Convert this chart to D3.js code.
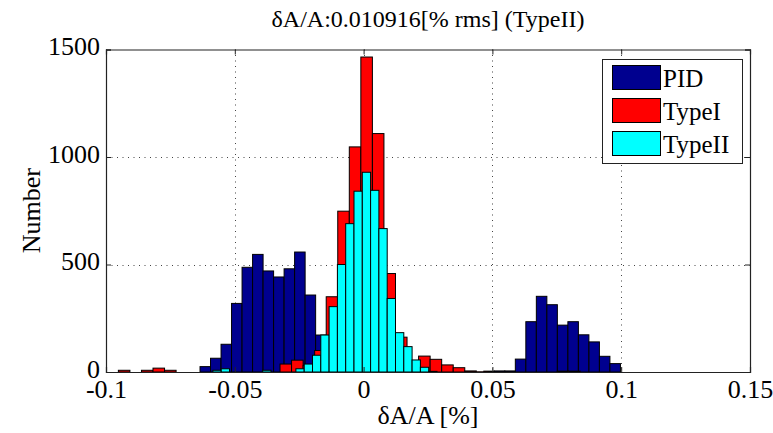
<!DOCTYPE html>
<html>
<head>
<meta charset="utf-8">
<script src="https://cdn.jsdelivr.net/npm/d3@7"></script>
<style>
  html, body { margin: 0; padding: 0; background: #fff; }
  svg { display: block; }
</style>
</head>
<body>
<svg id="chart" width="773" height="433"></svg>
<script>
// Histogram counts, 40 bins per series, each series over its own data range
const seriesNames = ["PID", "TypeI", "TypeII"];
const seriesColors = ["#00008f", "#ff0000", "#00ffff"];

const pidRange = [-0.0635, 0.0997];
const pidCounts = [25, 64, 129, 319, 487, 547, 470, 442, 480, 558,
                   358, 172, 90, 40, 20, 8, 3, 1, 1, 0,
                   0, 0, 0, 0, 0, 0, 0, 4, 5, 5,
                   60, 234, 352, 313, 218, 234, 173, 140, 73, 39];

const type1Range = [-0.0952, 0.0841];
const type1Counts = [8, 0, 8, 18, 8, 0, 0, 0, 0, 0,
                     0, 0, 0, 0, 37, 55, 30, 100, 350, 748,
                     1047, 1465, 1109, 458, 162, 50, 74, 59, 33, 20,
                     5, 1, 0, 0, 0, 0, 0, 0, 4, 4];

const type2Range = [-0.07139, 0.05749];
const type2Counts = [0, 0, 0, 0, 8, 15, 0, 0, 0, 0,
                     8, 0, 0, 0, 15, 37, 78, 172, 304, 500,
                     690, 841, 929, 845, 667, 342, 183, 118, 56, 22,
                     3, 0, 0, 0, 0, 0, 0, 0, 0, 0];

const xTicks = [-0.1, -0.05, 0, 0.05, 0.1, 0.15];
const xTickLabels = ["-0.1", "-0.05", "0", "0.05", "0.1", "0.15"];
const yTicks = [0, 500, 1000, 1500];
const yTickLabels = ["0", "500", "1000", "1500"];

const titleText = "δA/A:0.010916[% rms] (TypeII)";
const xLabelText = "δA/A [%]";
const yLabelText = "Number";

const serif = '"Liberation Serif", "Times New Roman", serif';

// ---- layout ----
const svg = d3.select("#chart");
const plot = { left: 106, right: 750, top: 49.5, bottom: 372 };

const x = d3.scaleLinear().domain([-0.1, 0.15]).range([plot.left, plot.right]);
const y = d3.scaleLinear().domain([0, 1500]).range([plot.bottom, plot.top]);

svg.append("rect").attr("width", 773).attr("height", 433).attr("fill", "#fff");

// dotted grid
const grid = svg.append("g").attr("stroke", "#444").attr("stroke-width", 1)
  .attr("stroke-dasharray", "1,4.5");
grid.selectAll("line.gx").data(xTicks.slice(1, -1)).join("line")
  .attr("x1", d => Math.round(x(d)) + 0.5).attr("x2", d => Math.round(x(d)) + 0.5)
  .attr("y1", plot.top).attr("y2", plot.bottom);
grid.selectAll("line.gy").data(yTicks.slice(1, -1)).join("line")
  .attr("y1", d => Math.round(y(d)) + 0.5).attr("y2", d => Math.round(y(d)) + 0.5)
  .attr("x1", plot.left).attr("x2", plot.right);

// bins from each series range
function makeBins(range, counts) {
  const n = counts.length;
  const w = (range[1] - range[0]) / n;
  return counts.map((c, i) => ({ x0: range[0] + i * w, x1: range[0] + (i + 1) * w, count: c }));
}

const allSeries = [
  makeBins(pidRange, pidCounts),
  makeBins(type1Range, type1Counts),
  makeBins(type2Range, type2Counts)
];

allSeries.forEach((bins, si) => {
  svg.append("g")
    .selectAll("rect")
    .data(bins.filter(b => b.count > 0))
    .join("rect")
    .attr("x", d => x(d.x0))
    .attr("width", d => x(d.x1) - x(d.x0))
    .attr("y", d => y(d.count))
    .attr("height", d => y(0) - y(d.count))
    .attr("fill", seriesColors[si])
    .attr("stroke", "#000")
    .attr("stroke-width", 1);
});

// axes with inward ticks, box around the plot
const fontSize = 26;
const xAxis = d3.axisBottom(x).tickValues(xTicks)
  .tickFormat((d, i) => xTickLabels[i]).tickSize(-5).tickPadding(7.5);
const yAxis = d3.axisLeft(y).tickValues(yTicks)
  .tickFormat((d, i) => yTickLabels[i]).tickSize(-5).tickPadding(6);

const gx = svg.append("g").attr("transform", `translate(0,${plot.bottom})`).call(xAxis);
const gy = svg.append("g").attr("transform", `translate(${plot.left},0)`).call(yAxis);
const gxTop = svg.append("g").attr("transform", `translate(0,${plot.top})`)
  .call(d3.axisTop(x).tickValues(xTicks).tickFormat("").tickSize(-5));
const gyRight = svg.append("g").attr("transform", `translate(${plot.right},0)`)
  .call(d3.axisRight(y).tickValues(yTicks).tickFormat("").tickSize(-5));

[gx, gy, gxTop, gyRight].forEach(g => {
  g.attr("font-family", null).attr("font-size", null);
  g.select(".domain").attr("stroke", "#222").attr("stroke-width", 1.2);
  g.selectAll(".tick line").attr("stroke", "#222");
  g.selectAll(".tick text")
    .style("font-family", serif).style("font-size", fontSize + "px").style("fill", "#000");
});
gy.selectAll(".tick text").attr("dy", "0.2em");

// titles
svg.append("text").attr("x", (plot.left + plot.right) / 2).attr("y", 27)
  .attr("text-anchor", "middle")
  .style("font-family", serif).style("font-size", "24px").text(titleText);
svg.append("text").attr("x", (plot.left + plot.right) / 2).attr("y", 424)
  .attr("text-anchor", "middle")
  .style("font-family", serif).style("font-size", fontSize + "px").text(xLabelText);
svg.append("text")
  .attr("transform", `translate(40,${(plot.top + plot.bottom) / 2}) rotate(-90)`)
  .attr("text-anchor", "middle")
  .style("font-family", serif).style("font-size", fontSize + "px").text(yLabelText);

// legend
const legend = svg.append("g");
legend.append("rect").attr("x", 602.5).attr("y", 59.5).attr("width", 140).attr("height", 104)
  .attr("fill", "#fff").attr("stroke", "#222").attr("stroke-width", 1);
seriesNames.forEach((name, i) => {
  const cy = 77.5 + i * 33;
  legend.append("rect").attr("x", 612.5).attr("y", cy - 12).attr("width", 48).attr("height", 24)
    .attr("fill", seriesColors[i]).attr("stroke", "#000").attr("stroke-width", 1);
  legend.append("text").attr("x", 663).attr("y", cy + 9)
    .style("font-family", serif).style("font-size", "25px").text(name);
});
</script>
</body>
</html>
